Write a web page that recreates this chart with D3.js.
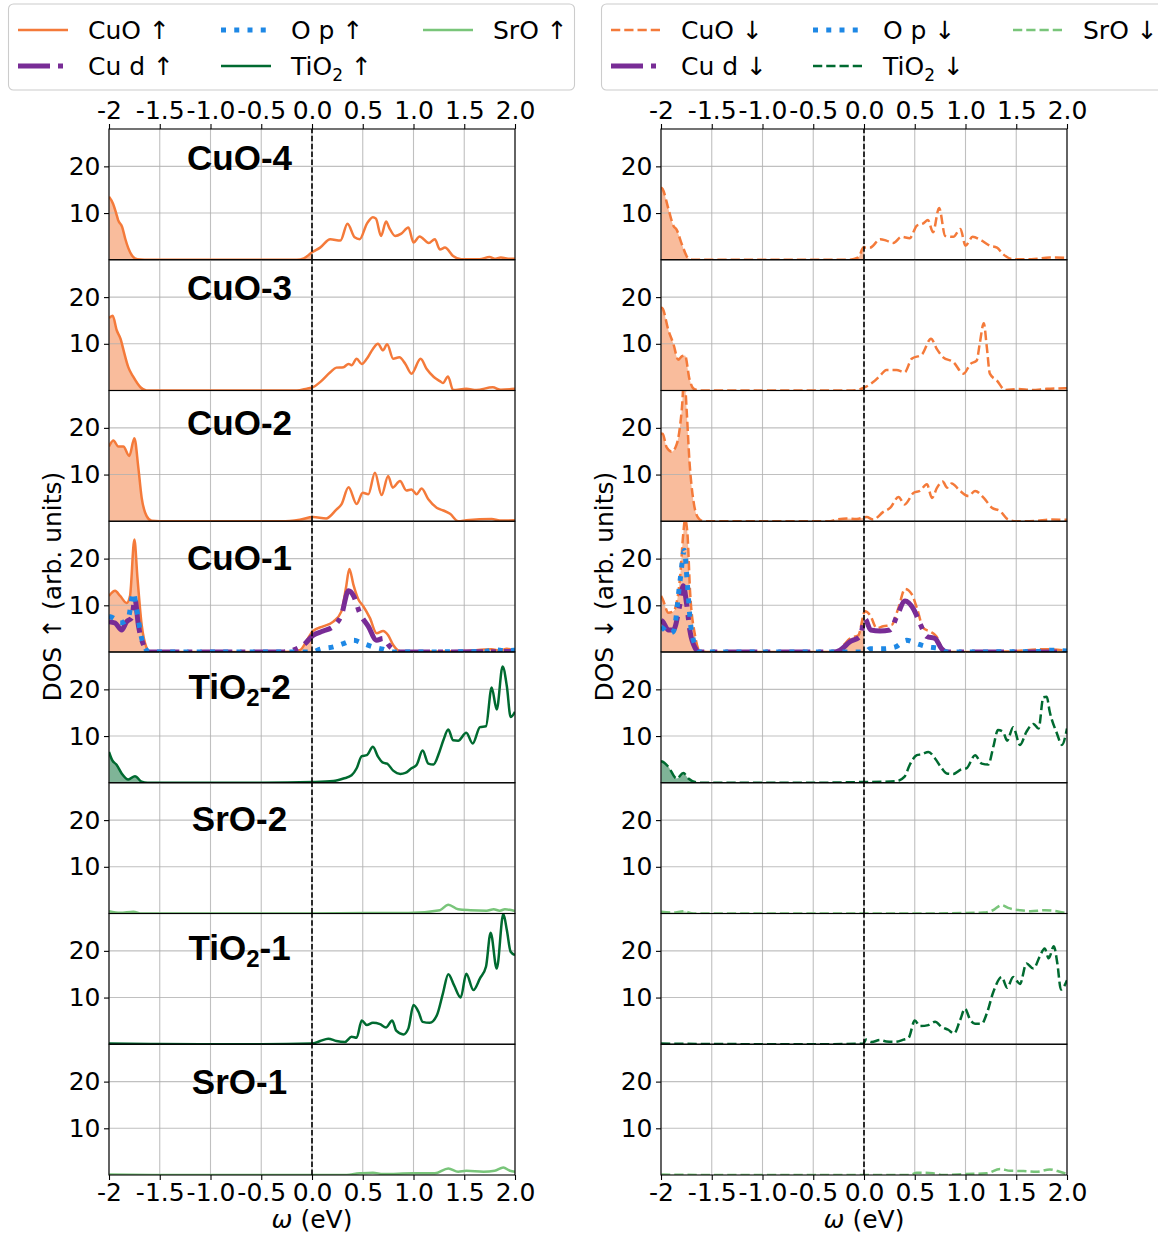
<!DOCTYPE html>
<html><head><meta charset="utf-8">
<script src="https://cdn.jsdelivr.net/npm/d3@7"></script>
<style>body{margin:0;background:#fff} svg{display:block}</style>
</head><body><svg id="chart" width="1158" height="1233"></svg>
<script>
// ---------------- DATA ----------------
const xTicks = [-2,-1.5,-1,-0.5,0,0.5,1,1.5,2];
const xTickLabels = ["-2","-1.5","-1.0","-0.5","0.0","0.5","1.0","1.5","2.0"];
const yTicks = [10,20];
const panelNames = ["CuO-4","CuO-3","CuO-2","CuO-1","TiO2-2","SrO-2","TiO2-1","SrO-1"];
const panelKinds = ["CuO","CuO","CuO","CuO","TiO2","SrO","TiO2","SrO"];
const legendUp = ["CuO ↑","Cu d ↑","O p ↑","TiO2 ↑","SrO ↑"];
const legendDn = ["CuO ↓","Cu d ↓","O p ↓","TiO2 ↓","SrO ↓"];
const yLabels = ["DOS ↑ (arb. units)","DOS ↓ (arb. units)"];
const xLabel = "(eV)";

const cuo4Up = [[-2,13.5],[-1.96,12],[-1.93,10],[-1.91,8.5],[-1.87,7],[-1.84,4.5],[-1.81,2.5],[-1.77,0.8],[-1.72,0.1],[-1.65,0],[-0.15,0],[-0.08,0.3],[0,1.6],[0.08,2.6],[0.18,4.4],[0.28,4.1],[0.35,7.7],[0.42,4.8],[0.47,4.4],[0.54,7.7],[0.6,9.1],[0.63,8.8],[0.68,5.1],[0.73,8.2],[0.76,6.9],[0.82,5.1],[0.88,5.6],[0.95,6.9],[1.0,3.7],[1.06,5.0],[1.15,3.6],[1.21,4.4],[1.26,2.2],[1.31,2.6],[1.39,0.8],[1.47,0.1],[1.65,0.1],[1.75,0.6],[1.8,0.2],[1.86,0.5],[1.95,0.2],[2,0.2]];
const cuo3Up = [[-2,15.5],[-1.99,15.7],[-1.964,16],[-1.924,12.9],[-1.885,11],[-1.86,8.9],[-1.81,5],[-1.76,2.9],[-1.69,0.7],[-1.63,0],[-0.15,0],[-0.05,0.4],[0.01,0.7],[0.08,1.8],[0.18,3.9],[0.24,4.9],[0.31,5.0],[0.36,5.7],[0.39,5.4],[0.44,6.8],[0.49,5.7],[0.54,6.8],[0.6,8.9],[0.65,10],[0.7,8.6],[0.74,9.9],[0.8,6.8],[0.86,7.1],[0.92,5.7],[0.98,3.6],[1.07,6.8],[1.13,4.6],[1.2,2.9],[1.26,2],[1.29,1.6],[1.34,3],[1.39,0.1],[1.52,0.35],[1.62,0.1],[1.78,0.7],[1.86,0.15],[2,0.35]];
const cuo2Up = [[-2,16],[-1.957,17.3],[-1.908,16],[-1.859,16],[-1.8,14],[-1.75,17.8],[-1.711,11.5],[-1.678,5],[-1.629,1.1],[-1.58,0.1],[-1.5,0],[-0.3,0],[-0.12,0.35],[0.01,0.9],[0.14,0.6],[0.24,2.5],[0.29,3.6],[0.36,7.3],[0.44,3.7],[0.5,6.1],[0.555,5.8],[0.62,10.4],[0.686,5.6],[0.75,9.7],[0.795,7.2],[0.867,8.6],[0.93,6.6],[0.98,6.8],[1.03,5.8],[1.08,7],[1.146,4.7],[1.228,2.9],[1.294,2.3],[1.36,1.6],[1.44,0],[1.52,0.2],[1.77,0.5],[1.85,0.15],[2,0.2]];
const cuo1Up = [[-2,12],[-1.94,13.1],[-1.89,12],[-1.826,10.5],[-1.793,12],[-1.75,24.1],[-1.72,16],[-1.678,5.8],[-1.63,0.9],[-1.6,0],[-0.3,0],[-0.12,0.4],[-0.04,2.9],[0.01,4.5],[0.11,5.5],[0.21,6.5],[0.29,8.7],[0.335,13.8],[0.368,17.8],[0.407,14.5],[0.456,11.3],[0.505,9.8],[0.57,7.3],[0.637,4],[0.70,4.5],[0.75,3.6],[0.80,1.5],[0.87,0.15],[1.3,0.1],[1.5,0.2],[1.77,0.6],[1.85,0.3],[1.92,0.7],[2,0.1]];
const cudUp = [[-2,6.5],[-1.94,6.2],[-1.875,4.7],[-1.826,6.5],[-1.777,7.3],[-1.744,11.3],[-1.711,5.8],[-1.66,1.5],[-1.62,0],[-0.3,0],[-0.085,1.5],[0.013,3.6],[0.11,4.5],[0.21,5.5],[0.29,7.9],[0.36,13.1],[0.41,12],[0.47,8.4],[0.555,5.5],[0.637,2.5],[0.70,2.9],[0.77,1.1],[0.87,0],[2,0.1]];
const opUp = [[-2,7.6],[-1.957,7.3],[-1.89,6.2],[-1.81,7.3],[-1.76,12.7],[-1.73,9.5],[-1.678,2.9],[-1.63,0.4],[-1.6,0],[0,0],[0.08,0.6],[0.21,1.1],[0.31,1.8],[0.41,2.5],[0.505,1.8],[0.6,1.1],[0.7,0.6],[0.8,0],[1.7,0.1],[1.8,0.5],[1.9,0.3],[2,0.4]];
const tio2_2Up = [[-2,6.6],[-1.97,4.9],[-1.924,3.8],[-1.875,2],[-1.81,0.7],[-1.744,1.4],[-1.678,0.2],[-1.62,0],[-0.5,0],[0.01,0.15],[0.21,0.35],[0.31,0.9],[0.39,1.6],[0.44,3.1],[0.49,5.7],[0.54,5.9],[0.6,7.7],[0.65,5.6],[0.7,4.3],[0.74,4.1],[0.8,2.6],[0.87,1.9],[0.92,2.1],[0.98,3.1],[1.03,3.8],[1.09,6.9],[1.146,4.1],[1.196,3.9],[1.255,6.6],[1.294,9.1],[1.343,11.4],[1.39,9.1],[1.44,9],[1.52,10.7],[1.583,8.4],[1.655,11.9],[1.714,12.1],[1.77,20.4],[1.82,15.7],[1.878,24.9],[1.92,20.6],[1.957,14.1],[2,15.2]];
const sro2Up = [[-2,0.5],[-1.89,0.15],[-1.76,0.4],[-1.68,0],[0,0],[0.54,0.1],[0.95,0.1],[1.26,0.7],[1.343,1.9],[1.44,0.9],[1.56,0.7],[1.72,0.6],[1.79,0.9],[1.85,0.6],[1.9,0.9],[2,0.5]];
const tio2_1Up = [[-2,0.15],[-1.5,0.05],[-0.5,0],[0,0.15],[0.08,0.7],[0.16,1.2],[0.24,0.7],[0.325,0.5],[0.39,1.6],[0.44,1.4],[0.49,5.1],[0.54,4.1],[0.6,4.6],[0.67,4.3],[0.73,3.6],[0.79,5.1],[0.83,2.9],[0.9,2.1],[0.95,3.4],[1.0,8.4],[1.05,6.9],[1.09,4.8],[1.16,4.6],[1.23,6.2],[1.29,10.9],[1.343,15],[1.4,12.6],[1.465,10],[1.52,15.1],[1.59,11.6],[1.655,14.1],[1.714,16.6],[1.76,23.9],[1.82,16.2],[1.885,27.9],[1.92,24.4],[1.957,19.8],[2,19.1]];
const sro1Up = [[-2,0.1],[-1.5,0],[0.3,0],[0.47,0.35],[0.6,0.5],[0.7,0.2],[1.0,0.35],[1.21,0.35],[1.343,1.4],[1.44,0.7],[1.52,0.9],[1.69,0.7],[1.8,0.9],[1.885,1.6],[1.95,0.9],[2,0.7]];

const cuo4Dn = [[-2,15.5],[-1.983,15.1],[-1.927,10.9],[-1.878,7.3],[-1.845,6.4],[-1.796,3.4],[-1.73,0.3],[-1.68,0],[-0.15,0],[-0.055,0.5],[-0.006,2.6],[0.06,2.6],[0.16,4.4],[0.22,4.1],[0.29,3.6],[0.37,4.9],[0.45,4.6],[0.52,7.3],[0.585,7.8],[0.63,8.5],[0.68,5.9],[0.74,11.1],[0.8,5.1],[0.88,4.9],[0.95,6.6],[1.0,3],[1.07,4.9],[1.16,4.1],[1.24,3],[1.31,2.6],[1.37,1.2],[1.47,0.1],[1.65,0.1],[1.83,0.5],[2,0.4]];
const cuo3Dn = [[-2,17.8],[-1.983,17.5],[-1.927,12.9],[-1.878,10],[-1.83,6.6],[-1.796,7.3],[-1.763,7.5],[-1.72,2.5],[-1.68,0.4],[-1.62,0],[-0.15,0],[-0.07,0.1],[0.01,0.7],[0.09,1.8],[0.16,3.2],[0.22,4.4],[0.32,4.4],[0.40,3.9],[0.47,6.8],[0.57,7.7],[0.66,11.1],[0.72,8.8],[0.78,7.1],[0.88,6.1],[0.98,3.6],[1.05,5.7],[1.11,6.4],[1.14,10],[1.18,14.4],[1.21,9.3],[1.24,3.6],[1.31,2.1],[1.39,0.1],[1.52,0.3],[1.65,0.1],[1.80,0.35],[2,0.5]];
const cuo2Dn = [[-2,18.8],[-1.983,18.7],[-1.944,15.8],[-1.895,14.9],[-1.845,16.5],[-1.796,23.7],[-1.77,31],[-1.747,23.7],[-1.72,13],[-1.68,4.3],[-1.632,0.7],[-1.58,0],[-0.35,0],[-0.27,0.35],[-0.17,0.6],[-0.07,0.5],[0.027,0.9],[0.09,0.35],[0.19,2],[0.26,2.9],[0.34,5.2],[0.40,3.6],[0.49,6.1],[0.55,6.5],[0.62,7.9],[0.67,5],[0.72,7.2],[0.775,8.5],[0.82,7.2],[0.864,8.1],[0.946,6.5],[1.03,5.4],[1.094,6.5],[1.18,5],[1.26,2.9],[1.34,2.2],[1.42,0.35],[1.5,0],[1.7,0.1],[1.83,0.35],[2,0.3]];
const cuo1Dn = [[-2,12],[-1.983,11.3],[-1.927,8.4],[-1.878,8.7],[-1.812,16],[-1.78,25.5],[-1.763,28.4],[-1.74,25.5],[-1.714,13.1],[-1.665,3.6],[-1.616,0.15],[-1.55,0],[-0.27,0],[-0.2,1.5],[-0.138,2.9],[-0.055,3.6],[0.01,8.7],[0.06,7.9],[0.125,5.1],[0.19,5.5],[0.273,5.8],[0.34,9.5],[0.404,13.5],[0.47,12.4],[0.52,9.5],[0.585,5.1],[0.65,4.4],[0.716,3.3],[0.78,0.4],[0.85,0],[1.4,0.1],[1.8,0.6],[2,0.3]];
const cudDn = [[-2,6.8],[-1.983,6.5],[-1.927,4.7],[-1.878,4.7],[-1.82,9.5],[-1.78,14.2],[-1.747,10.2],[-1.714,4.4],[-1.665,0.9],[-1.62,0],[-0.3,0],[-0.236,0.4],[-0.138,2.2],[-0.04,3.3],[0.01,7.1],[0.066,4.7],[0.158,4.5],[0.256,4.7],[0.33,8],[0.404,10.9],[0.49,9.1],[0.55,6.2],[0.62,3.3],[0.70,2.9],[0.765,0.7],[0.82,0],[2,0]];
const opDn = [[-2,5.3],[-1.983,5.1],[-1.927,4],[-1.878,4.4],[-1.812,15.3],[-1.77,21.8],[-1.74,14.5],[-1.708,5.8],[-1.665,1.5],[-1.62,0],[0.01,0],[0.06,0.7],[0.19,0.7],[0.31,1.1],[0.42,2.5],[0.52,1.8],[0.63,1.1],[0.75,0.7],[0.81,0],[1.7,0.1],[1.85,0.4],[2,0.2]];
const tio2_2Dn = [[-2,4.6],[-1.983,4.5],[-1.927,3.4],[-1.845,0.9],[-1.78,2.1],[-1.73,0.9],[-1.665,0.15],[-1.6,0],[-0.5,0],[-0.006,0.15],[0.19,0.2],[0.32,0.35],[0.40,1.3],[0.45,3.8],[0.52,5.9],[0.57,6.1],[0.634,6.6],[0.70,5.2],[0.766,3.1],[0.815,2],[0.88,1.9],[0.96,2.9],[1.01,3.1],[1.094,5.9],[1.16,4.1],[1.225,3.9],[1.274,7.7],[1.32,11.3],[1.37,10.9],[1.41,9],[1.47,11.9],[1.537,8.1],[1.60,10.9],[1.67,12.6],[1.72,11.6],[1.767,18.3],[1.80,18.4],[1.83,15.2],[1.90,10.6],[1.95,8.1],[2,11.6]];
const sro2Dn = [[-2,0.35],[-1.88,0.2],[-1.78,0.5],[-1.68,0],[0.5,0],[1.18,0.2],[1.27,0.7],[1.357,1.8],[1.42,1.2],[1.54,0.7],[1.64,0.5],[1.78,0.7],[1.9,0.5],[2,0]];
const tio2_1Dn = [[-2,0.15],[-1.5,0.05],[-0.5,0],[-0.006,0.15],[0.02,1],[0.076,0.5],[0.158,0.9],[0.22,0.6],[0.306,0.5],[0.39,1],[0.44,1.4],[0.50,5.1],[0.55,3.9],[0.634,4.1],[0.70,4.8],[0.766,3.7],[0.83,3.1],[0.887,2.3],[0.946,5.1],[0.995,7.6],[1.045,5.3],[1.094,4.4],[1.16,4.4],[1.21,6.6],[1.274,11.2],[1.357,14.4],[1.41,12.1],[1.47,14.4],[1.537,12.9],[1.60,17.3],[1.67,16.2],[1.73,18.7],[1.78,20.5],[1.82,18.4],[1.87,21],[1.905,17.3],[1.94,11.7],[2,13.7]];
const sro1Dn = [[-2,0.1],[-1.5,0],[0.45,0],[0.52,0.5],[0.68,0.35],[0.78,0],[1.0,0.2],[1.21,0.35],[1.34,1.3],[1.44,0.9],[1.57,0.85],[1.70,0.7],[1.83,1.2],[1.93,0.7],[2,0.2]];

const totalsUp = [cuo4Up, cuo3Up, cuo2Up, cuo1Up, tio2_2Up, sro2Up, tio2_1Up, sro1Up];
const totalsDn = [cuo4Dn, cuo3Dn, cuo2Dn, cuo1Dn, tio2_2Dn, sro2Dn, tio2_1Dn, sro1Dn];
const projUp = {3: [["CuD", cudUp], ["Op", opUp]]};
const projDn = {3: [["CuD", cudDn], ["Op", opDn]]};

// ---------------- LAYOUT / STYLE ----------------
const colors = {CuO:"#f47a3a", CuD:"#782c96", Op:"#1e88e5", TiO2:"#006a30", SrO:"#79c57a"};
const widths = {CuO:2.5, CuD:5, Op:5, TiO2:2.5, SrO:2.5};
const dashUp = {CuO:null, CuD:"32 8 5 8", Op:"5 8.25", TiO2:null, SrO:null};
const dashDn = {CuO:"9.25 4", CuD:"32 8 5 8", Op:"5 8.25", TiO2:"9.25 4", SrO:"9.25 4"};
const legendKeys = ["CuO","CuD","Op","TiO2","SrO"];
const colLeft = [109, 661], colW = 406;
const top0 = 129, panelH = 130.75, yMax = 28;
const titleY = [19.2,19.4,18.4,17.6,17.9,17.7,18.0,17.3];
const FONT = "DejaVu Sans, sans-serif";
const FS = 25;

const svg = d3.select("#chart");
svg.append("rect").attr("width",1158).attr("height",1233).attr("fill","#fff");
const defs = svg.append("defs");

function addText(sel, str, subSize, subDy) {
  const i = str.indexOf("TiO2");
  if (i < 0) { sel.text(str); return sel; }
  sel.append("tspan").text(str.slice(0, i + 3));
  sel.append("tspan").attr("font-size", subSize).attr("dy", subDy).text("2");
  sel.append("tspan").attr("dy", -subDy).text(str.slice(i + 4));
  return sel;
}

[0,1].forEach(c => {
  const x = d3.scaleLinear().domain([-2, 2]).range([colLeft[c], colLeft[c] + colW]);
  const totals = c === 0 ? totalsUp : totalsDn;
  const projs = c === 0 ? projUp : projDn;
  const dashes = c === 0 ? dashUp : dashDn;

  panelNames.forEach((name, i) => {
    const pTop = top0 + i * panelH;
    const y = d3.scaleLinear().domain([0, yMax]).range([pTop + panelH, pTop]);
    const g = svg.append("g");
    const clipId = `clip-${c}-${i}`, fillClipId = `fclip-${c}-${i}`;
    defs.append("clipPath").attr("id", clipId).append("rect")
      .attr("x", x(-2)).attr("y", y(yMax)).attr("width", x(2) - x(-2)).attr("height", y(0) - y(yMax));
    defs.append("clipPath").attr("id", fillClipId).append("rect")
      .attr("x", x(-2)).attr("y", y(yMax)).attr("width", x(0) - x(-2)).attr("height", y(0) - y(yMax));

    const kind = panelKinds[i];
    const data = totals[i];
    g.append("path").datum(data)
      .attr("clip-path", `url(#${fillClipId})`)
      .attr("fill", colors[kind]).attr("fill-opacity", 0.5)
      .attr("d", d3.area().x(d => x(d[0])).y0(y(0)).y1(d => y(d[1])).curve(d3.curveMonotoneX));

    g.append("g").selectAll("line").data(xTicks).join("line")
      .attr("x1", d => x(d)).attr("x2", d => x(d)).attr("y1", y(0)).attr("y2", y(yMax))
      .attr("stroke", "#b0b0b0").attr("stroke-opacity", 0.8).attr("stroke-width", 1.1);
    g.append("g").selectAll("line").data(yTicks).join("line")
      .attr("x1", x(-2)).attr("x2", x(2)).attr("y1", d => y(d)).attr("y2", d => y(d))
      .attr("stroke", "#b0b0b0").attr("stroke-opacity", 0.8).attr("stroke-width", 1.1);

    const line = d3.line().x(d => x(d[0])).y(d => y(d[1])).curve(d3.curveMonotoneX);
    g.append("path").datum(data).attr("clip-path", `url(#${clipId})`)
      .attr("fill", "none").attr("stroke", colors[kind]).attr("stroke-width", widths[kind])
      .attr("stroke-dasharray", dashes[kind]).attr("stroke-linejoin", "round").attr("d", line);
    (projs[i] || []).forEach(([k, arr]) => {
      g.append("path").datum(arr).attr("clip-path", `url(#${clipId})`)
        .attr("fill", "none").attr("stroke", colors[k]).attr("stroke-width", widths[k])
        .attr("stroke-dasharray", dashes[k]).attr("d", line);
    });

    g.append("line").attr("x1", x(0)).attr("x2", x(0)).attr("y1", y(0)).attr("y2", y(yMax))
      .attr("stroke", "#000").attr("stroke-width", 1.6).attr("stroke-dasharray", "5.5 2.4");

    const ya = g.append("g").attr("transform", `translate(${x(-2)},0)`)
      .call(d3.axisLeft(y).tickValues(yTicks).tickFormat(d3.format("d")).tickSize(5).tickPadding(3.5));
    ya.select(".domain").remove();
    ya.selectAll("text").attr("font-family", FONT).attr("font-size", FS).attr("fill", "#000");
    ya.selectAll("line").attr("stroke-width", 1.1);

    g.append("rect").attr("x", x(-2)).attr("y", y(yMax)).attr("width", x(2) - x(-2)).attr("height", y(0) - y(yMax))
      .attr("fill", "none").attr("stroke", "#000").attr("stroke-width", 1.1);

    if (c === 0) {
      const t = g.append("text").attr("x", x(-0.714)).attr("y", y(titleY[i]))
        .attr("text-anchor", "middle").attr("font-family", "Liberation Sans, Arial, sans-serif")
        .attr("font-weight", "bold").attr("font-size", 35);
      addText(t, name, 24, 7);
    }

    if (i === 0) {
      const xa = g.append("g").attr("transform", `translate(0,${y(yMax)})`)
        .call(d3.axisTop(x).tickValues(xTicks).tickFormat((d, k) => xTickLabels[k]).tickSize(5).tickPadding(5));
      xa.select(".domain").remove();
      xa.selectAll("text").attr("font-family", FONT).attr("font-size", FS).attr("fill", "#000");
      xa.selectAll("line").attr("stroke-width", 1.1);
    }
    if (i === panelNames.length - 1) {
      const xa = g.append("g").attr("transform", `translate(0,${y(0)})`)
        .call(d3.axisBottom(x).tickValues(xTicks).tickFormat((d, k) => xTickLabels[k]).tickSize(5).tickPadding(3.5));
      xa.select(".domain").remove();
      xa.selectAll("text").attr("font-family", FONT).attr("font-size", FS).attr("fill", "#000");
      xa.selectAll("line").attr("stroke-width", 1.1);
      const xl = svg.append("text").attr("x", x(0)).attr("y", 1228).attr("text-anchor", "middle")
        .attr("font-family", FONT).attr("font-size", FS);
      xl.append("tspan").attr("font-style", "italic").text("ω");
      xl.append("tspan").text(" " + xLabel);
    }
    if (i === 3) {
      svg.append("text").attr("transform", `translate(${x(-2) - 48},${y(yMax / 2)}) rotate(-90)`)
        .attr("text-anchor", "middle").attr("font-family", FONT).attr("font-size", FS)
        .text(yLabels[c]);
    }
  });

  // legend
  const lx = [8.5, 601.5][c];
  const lg = svg.append("g");
  lg.append("rect").attr("x", lx).attr("y", 4).attr("width", 566).attr("height", 86).attr("rx", 5)
    .attr("fill", "#fff").attr("fill-opacity", 0.8).attr("stroke", "#cccccc").attr("stroke-width", 1.1);
  const labels = c === 0 ? legendUp : legendDn;
  const colStarts = c === 0 ? [lx + 9.5, lx + 212.5, lx + 414.5] : [lx + 9.5, lx + 211.5, lx + 411.5];
  const rowY = [30, 66];
  legendKeys.forEach((k, j) => {
    const col = Math.floor(j / 2), row = j % 2;
    const hx = colStarts[col], hy = rowY[row];
    lg.append("line").attr("x1", hx).attr("x2", hx + 50).attr("y1", hy).attr("y2", hy)
      .attr("stroke", colors[k]).attr("stroke-width", widths[k]).attr("stroke-dasharray", dashes[k]);
    const t = lg.append("text").attr("x", hx + 70).attr("y", hy + 9)
      .attr("font-family", FONT).attr("font-size", FS);
    addText(t, labels[j], 17, 6);
  });
});
</script></body></html>
